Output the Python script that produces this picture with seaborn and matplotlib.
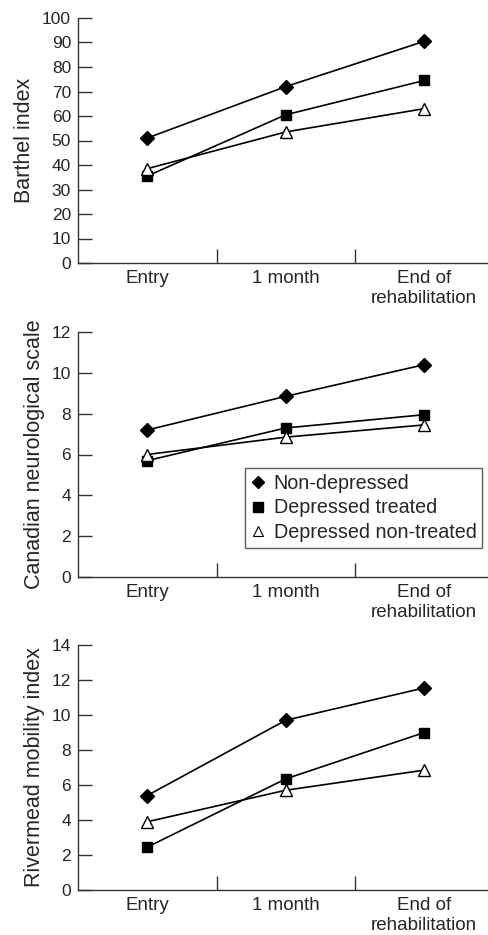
import numpy as np
import pandas as pd
import matplotlib
matplotlib.use("Agg")
import matplotlib.pyplot as plt
from matplotlib.lines import Line2D
import seaborn as sns

sns.set_theme(style="white")
plt.rcParams['font.family'] = ['Liberation Sans', 'DejaVu Sans']

# Data
timepoints = ["Entry", "1 month", "End of\nrehabilitation"]
groups = ["Non-depressed", "Depressed treated", "Depressed non-treated"]

barthel_nondep = [51, 72, 90.5]
barthel_treated = [35.5, 60.5, 74.5]
barthel_nontreated = [38.5, 53.5, 63]

canadian_nondep = [7.2, 8.85, 10.4]
canadian_treated = [5.7, 7.3, 7.95]
canadian_nontreated = [6.0, 6.85, 7.45]

rivermead_nondep = [5.4, 9.7, 11.55]
rivermead_treated = [2.45, 6.35, 9.0]
rivermead_nontreated = [3.9, 5.7, 6.85]

panels = [
    ("Barthel index", [barthel_nondep, barthel_treated, barthel_nontreated], 100, 10),
    ("Canadian neurological scale", [canadian_nondep, canadian_treated, canadian_nontreated], 12, 2),
    ("Rivermead mobility index", [rivermead_nondep, rivermead_treated, rivermead_nontreated], 14, 2),
]

styles = {
    "Non-depressed": dict(marker="D", markerfacecolor="black", markersize=7.5),
    "Depressed treated": dict(marker="s", markerfacecolor="black", markersize=7.5),
    "Depressed non-treated": dict(marker="^", markerfacecolor="white", markersize=9),
}

W, H = 488, 935
fig = plt.figure(figsize=(W / 100, H / 100), dpi=100)

# axes boxes in pixels: (top, bottom)
boxes = [(18, 263), (332, 577), (645, 890)]
left_px = 78

for (label, series, ymax, step), (top, bot) in zip(panels, boxes):
    ax = fig.add_axes([left_px / W, 1 - bot / H, 1 - left_px / W, (bot - top) / H])
    rows = []
    for g, vals in zip(groups, series):
        for i, v in enumerate(vals):
            rows.append({"group": g, "pos": i, "value": v})
    df = pd.DataFrame(rows)
    for g in groups:
        sub = df[df["group"] == g]
        sns.lineplot(data=sub, x="pos", y="value", ax=ax, color="black", lw=1.2,
                     markeredgecolor="black", markeredgewidth=1.0, **styles[g])
    ax.set_xlim(-0.5, 2.46)
    ax.set_ylim(0, ymax)
    ax.set_yticks(np.arange(0, ymax + 0.1, step))
    ax.set_xticks(range(3))
    ax.set_xticklabels(timepoints, fontsize=13.5, linespacing=1.2)
    ax.set_xticks([0.5, 1.5], minor=True)
    ax.tick_params(axis="x", which="major", length=0, pad=5)
    ax.tick_params(axis="x", which="minor", direction="in", length=10, width=1, color="#333333", bottom=True)
    ax.tick_params(axis="y", direction="in", length=10, width=1, color="#333333", labelsize=12.5, left=True, pad=5)
    ax.set_xlabel("")
    ax.set_ylabel(label, fontsize=15.5, labelpad=5)
    for s in ["top", "right"]:
        ax.spines[s].set_visible(False)
    for s in ["left", "bottom"]:
        ax.spines[s].set_color("#333333")
        ax.spines[s].set_linewidth(1.0)

handles = [
    Line2D([], [], linestyle="none", color="black", marker="D", markersize=6.5, markerfacecolor="black"),
    Line2D([], [], linestyle="none", color="black", marker="s", markersize=6.5, markerfacecolor="black"),
    Line2D([], [], linestyle="none", color="black", marker="^", markersize=7, markerfacecolor="white", markeredgewidth=0.8),
]
leg = fig.legend(handles, groups, loc="upper left", bbox_to_anchor=(245 / W, 1 - 468 / H),
                 fontsize=14.2, frameon=True, fancybox=False, edgecolor="#333333",
                 handlelength=0.7, handletextpad=0.45, borderpad=0.3, labelspacing=0.28,
                 borderaxespad=0)
leg.get_frame().set_linewidth(1.0)

fig.savefig("out.png", dpi=100)
